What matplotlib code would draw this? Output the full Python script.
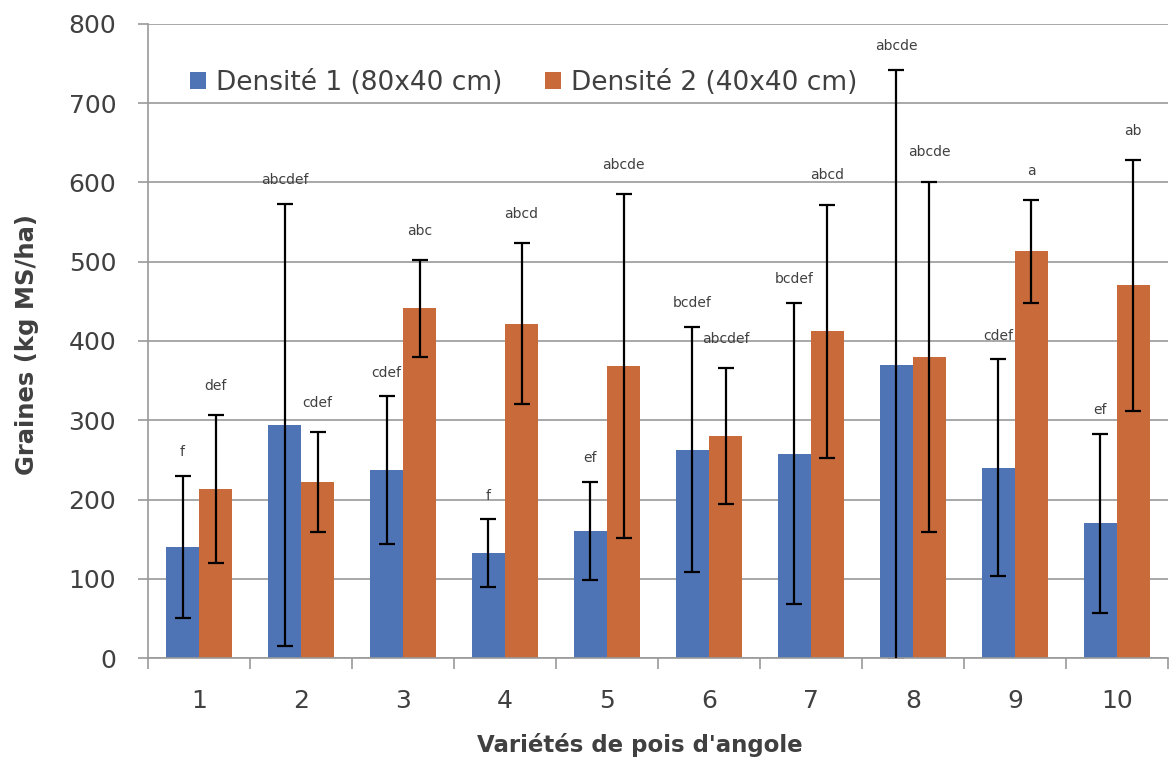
import matplotlib
matplotlib.use("Agg")
import matplotlib.pyplot as plt
import numpy as np

varietes = ["1", "2", "3", "4", "5", "6", "7", "8", "9", "10"]
dens1 = [140, 294, 237, 132, 160, 263, 258, 370, 240, 170]
err1 = [90, 279, 93, 43, 62, 155, 190, 372, 137, 113]
dens2 = [213, 222, 441, 422, 368, 280, 412, 380, 513, 470]
err2 = [93, 63, 61, 102, 217, 86, 160, 221, 65, 158]
lettres1 = ["f", "abcdef", "cdef", "f", "ef", "bcdef", "bcdef", "abcde", "cdef", "ef"]
lettres2 = ["def", "cdef", "abc", "abcd", "abcde", "abcdef", "abcd", "abcde", "a", "ab"]
yticks = [0, 100, 200, 300, 400, 500, 600, 700, 800]
leg1 = "Densité 1 (80x40 cm)"
leg2 = "Densité 2 (40x40 cm)"

blue = "#4F74B5"
orange = "#C96A3B"
txt = "#404040"
gridc = "#9a9a9a"

fig = plt.figure(figsize=(11.76, 7.64), dpi=100)
ax = fig.add_axes([0.126, 0.1387, 0.867, 0.830])

x = np.arange(1, len(varietes) + 1)
w = 0.325
ekw = dict(ecolor="black", elinewidth=1.6, capsize=5.5, capthick=1.6)
ax.bar(x - w / 2, dens1, w, color=blue, label=leg1, zorder=2)
ax.bar(x + w / 2, dens2, w, color=orange, label=leg2, zorder=2)
ax.errorbar(x - w / 2, dens1, yerr=err1, fmt="none", zorder=3, **ekw)
ax.errorbar(x + w / 2, dens2, yerr=err2, fmt="none", zorder=3, **ekw)

for xi, v, e, t in zip(x - w / 2, dens1, err1, lettres1):
    ax.annotate(t, (xi, v + e), xytext=(0, 17), textcoords="offset points",
                ha="center", va="center", fontsize=10, color=txt)
for xi, v, e, t in zip(x + w / 2, dens2, err2, lettres2):
    ax.annotate(t, (xi, v + e), xytext=(0, 21), textcoords="offset points",
                ha="center", va="center", fontsize=10, color=txt)

ax.set_xlim(0.5, len(varietes) + 0.5)
ax.set_ylim(0, 800)
ax.set_yticks(yticks)
ax.set_yticklabels([str(v) for v in yticks], fontsize=18, color=txt)
ax.set_xticks(x)
ax.set_xticklabels(varietes, fontsize=18, color=txt)
ax.tick_params(axis="x", length=0, pad=22)
ax.tick_params(axis="y", length=7, width=1.2, color=gridc, pad=16)
ax.set_xticks(np.arange(0.5, len(varietes) + 1, 1), minor=True)
ax.tick_params(axis="x", which="minor", length=8, width=1.2, color=gridc)

ax.yaxis.grid(True, color=gridc, linewidth=1.2, zorder=0)
ax.set_axisbelow(True)
for s in ["top", "right"]:
    ax.spines[s].set_visible(False)
for s in ["left", "bottom"]:
    ax.spines[s].set_color(gridc)
    ax.spines[s].set_linewidth(1.2)

ax.set_ylabel("Graines (kg MS/ha)", fontsize=17.5, fontweight="bold", color=txt,
              va="center")
ax.yaxis.set_label_coords(-0.119, 0.494)
ax.set_xlabel("Variétés de pois d'angole", fontsize=16.5, fontweight="bold", color=txt,
              va="center")
ax.xaxis.set_label_coords(0.482, -0.137)

ax.legend(loc="center left", bbox_to_anchor=(0.041, 0.907), ncol=2, frameon=False,
          fontsize=19, handlelength=0.6, handleheight=0.6, handletextpad=0.4,
          columnspacing=1.6, labelcolor=txt, borderaxespad=0, borderpad=0)

fig.savefig("out.png", dpi=100)
